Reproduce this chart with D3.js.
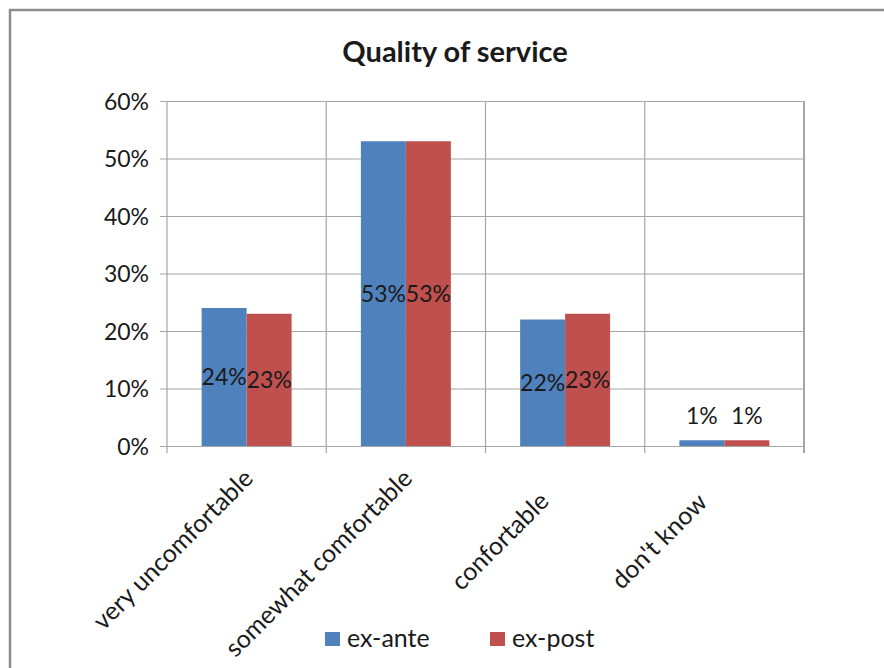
<!DOCTYPE html>
<html>
<head>
<meta charset="utf-8">
<script src="https://cdn.jsdelivr.net/npm/d3@7"></script>
<style>
  html, body { margin: 0; padding: 0; background: #fff; }
  svg { display: block; }
  text { font-family: Lato, "Open Sans", sans-serif; fill: #1a1a1a; }
</style>
</head>
<body>
<svg id="chart" width="884" height="668"></svg>
<script>
// Survey answers, share of respondents before and after
const categories = ["very uncomfortable", "somewhat comfortable", "confortable", "don't know"];
const seriesNames = ["ex-ante", "ex-post"];
const exAnte = [0.24, 0.53, 0.22, 0.01];
const exPost = [0.23, 0.53, 0.23, 0.01];
const yTicks = [0, 0.1, 0.2, 0.3, 0.4, 0.5, 0.6];
const colors = ["#4F81BD", "#C0504D"];

const seriesValues = [exAnte, exPost];
const rows = categories.map((c, i) => ({
  category: c,
  values: seriesNames.map((s, j) => ({ series: s, value: seriesValues[j][i], idx: j }))
}));

const svg = d3.select("#chart");

// outer chart frame
svg.append("rect")
  .attr("x", 10).attr("y", 10)
  .attr("width", 900).attr("height", 700)
  .attr("fill", "#fff")
  .attr("stroke", "#8c8c8c")
  .attr("stroke-width", 2.5);

const plot = { left: 167, top: 101, right: 804, bottom: 446 };

const x = d3.scaleBand()
  .domain(categories)
  .range([plot.left, plot.right]);

const xInner = d3.scaleBand()
  .domain(seriesNames)
  .range([0, x.bandwidth()])
  .paddingOuter(0.77)
  .paddingInner(0);

const y = d3.scaleLinear()
  .domain([0, 0.6])
  .range([plot.bottom, plot.top]);

const gridColor = "#a6a6a6";
const pct = d3.format(".0%");

// horizontal gridlines with y axis labels
const yAxis = d3.axisLeft(y)
  .tickValues(yTicks)
  .tickFormat(pct)
  .tickSize(plot.right - plot.left + 7)
  .tickSizeOuter(0);

const gy = svg.append("g")
  .attr("transform", `translate(${plot.right},0)`)
  .call(yAxis);
gy.select(".domain").remove();
gy.selectAll(".tick line").attr("stroke", gridColor).attr("stroke-width", 1.2);
gy.selectAll(".tick text")
  .attr("x", -(plot.right - plot.left) - 18)
  .attr("dy", "0.36em")
  .style("font-size", "23px")
  .attr("fill", "#1a1a1a");

// vertical gridlines at category boundaries
const boundaries = categories.map(c => x(c)).concat([plot.right]);
svg.append("g").selectAll("line")
  .data(boundaries)
  .join("line")
  .attr("x1", d => d).attr("x2", d => d)
  .attr("y1", plot.top)
  .attr("y2", plot.bottom + 7)
  .attr("stroke", gridColor)
  .attr("stroke-width", (d, i) => i === boundaries.length - 1 ? 2 : 1.2);

// bars
const groups = svg.append("g").selectAll("g")
  .data(rows)
  .join("g")
  .attr("transform", d => `translate(${x(d.category)},0)`);

groups.selectAll("rect")
  .data(d => d.values)
  .join("rect")
  .attr("x", d => xInner(d.series))
  .attr("width", xInner.bandwidth())
  .attr("y", d => y(d.value))
  .attr("height", d => y(0) - y(d.value))
  .attr("fill", d => colors[d.idx]);

// value labels: centred in the bar, above it when the bar is too short
groups.selectAll("text")
  .data(d => d.values)
  .join("text")
  .attr("x", d => xInner(d.series) + xInner.bandwidth() / 2)
  .attr("y", d => {
    const h = y(0) - y(d.value);
    return h < 24 ? y(d.value) - 24 : y(d.value / 2);
  })
  .attr("dy", "0.35em")
  .attr("text-anchor", "middle")
  .style("font-size", "23px")
  .text(d => pct(d.value));

// rotated category labels; short labels are pushed down along their slant
const catLabels = svg.append("g").selectAll("text")
  .data(categories)
  .join("text")
  .attr("text-anchor", "end")
  .style("font-size", "25px")
  .text(d => d);

catLabels.each(function (d) {
  const len = this.getComputedTextLength();
  const shift = Math.max(0, (190 - len) / 2) / Math.SQRT2;
  const ax = x(d) + x.bandwidth() / 2 + 8 - shift;
  const ay = plot.bottom + 34 + shift;
  d3.select(this).attr("transform", `translate(${ax},${ay}) rotate(-45)`);
});

// title
svg.append("text")
  .attr("x", 455)
  .attr("y", 62)
  .attr("text-anchor", "middle")
  .style("font-size", "29px")
  .style("font-weight", "bold")
  .text("Quality of service");

// legend
const legendX = [325, 490];
const legend = svg.append("g").selectAll("g")
  .data(seriesNames)
  .join("g")
  .attr("transform", (d, i) => `translate(${legendX[i]},632)`);
legend.append("rect")
  .attr("width", 15).attr("height", 14)
  .attr("fill", (d, i) => colors[i]);
legend.append("text")
  .attr("x", 22)
  .attr("y", 15)
  .style("font-size", "25px")
  .text(d => d);
</script>
</body>
</html>
